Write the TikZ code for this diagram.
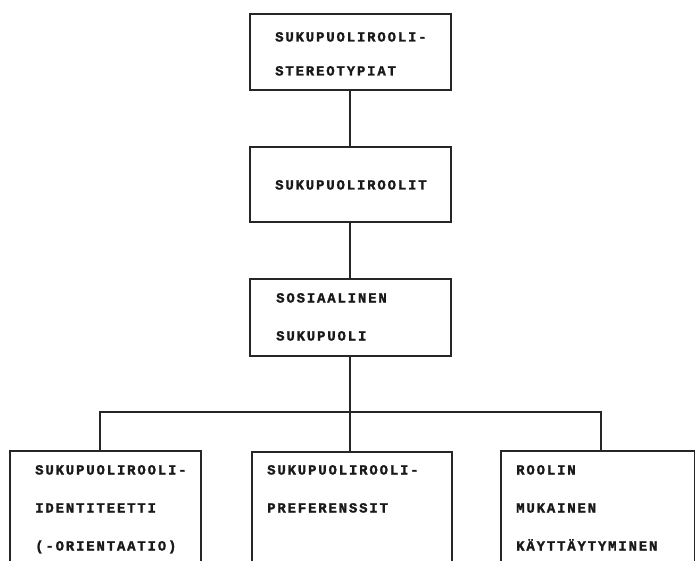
\documentclass[tikz,border=0pt]{standalone}
\usepackage{fontspec}
\newfontfamily\typefont[LetterSpace=13,FakeBold=1.5]{Liberation Mono Bold}
\tikzset{
  box/.style={draw=black!85, line width=2pt, rectangle, inner sep=0pt, anchor=north west},
  txt/.style={font=\typefont\fontsize{14}{34}\selectfont, text=black!90, inner sep=0pt, anchor=base west, align=left},
  txtb/.style={txt, font=\typefont\fontsize{14}{38}\selectfont},
  link/.style={draw=black!85, line width=2pt}
}
\begin{document}
\begin{tikzpicture}[x=1pt,y=-1pt]
\useasboundingbox (0,0) rectangle (695,561);
\fill[white] (0,0) rectangle (695,561);
% boxes
\node[box, minimum width=201pt, minimum height=76pt] (b1) at (249,13) {};
\node[box, minimum width=201pt, minimum height=75pt] (b2) at (249,146) {};
\node[box, minimum width=201pt, minimum height=77pt] (b3) at (249,278) {};
\node[box, minimum width=191pt, minimum height=160pt] (b4) at (9,450) {};
\node[box, minimum width=200pt, minimum height=160pt] (b5) at (251,451) {};
\node[box, minimum width=194pt, minimum height=160pt] (b6) at (500,450) {};
% texts (anchor at baseline of last line)
\node[txt] (t1) at (275,75.5) {SUKUPUOLIROOLI-\\STEREOTYPIAT};
\node[txt] (t2) at (275,189.5) {SUKUPUOLIROOLIT};
\node[txtb] (t3) at (276,340.5) {SOSIAALINEN\\SUKUPUOLI};
\node[txtb] (t4) at (35,550.5) {SUKUPUOLIROOLI-\\IDENTITEETTI\\(-ORIENTAATIO)};
\node[txtb] (t5) at (267,512.5) {SUKUPUOLIROOLI-\\PREFERENSSIT};
\node[txtb] (t6) at (516,550.5) {ROOLIN\\MUKAINEN\\KÄYTTÄYTYMINEN};
% connectors
\coordinate (jL) at (100,412);
\coordinate (jM) at (350,412);
\coordinate (jR) at (601,412);
\draw[link] (b1.south -| jM) -- (b2.north -| jM);
\draw[link] (b2.south -| jM) -- (b3.north -| jM);
\draw[link] (b3.south -| jM) -- (jM) -- (b5.north -| jM);
\draw[link] (b4.north -| jL) -- (jL) -- (jR) -- (b6.north -| jR);
\end{tikzpicture}
\end{document}
